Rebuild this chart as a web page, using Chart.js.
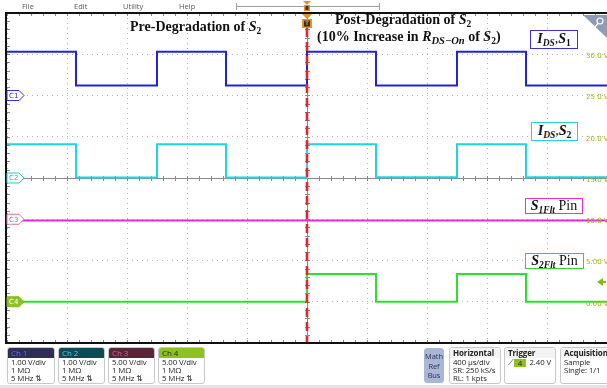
<!DOCTYPE html>
<html>
<head>
<meta charset="utf-8">
<script src="https://cdn.jsdelivr.net/npm/chart.js@4.4.1/dist/chart.umd.min.js"></script>
<style>
  body { margin: 0; background: #fff; }
  #wrap { position: relative; width: 607px; height: 388px; overflow: hidden; font-family: "Open Sans", "DejaVu Sans", sans-serif; }
  #scope { position: absolute; left: 0; top: 0; }
  .menu { position: absolute; top: 1px; font-size: 7.5px; color: #555; }
  .note { position: absolute; font-family: "Liberation Serif", "DejaVu Serif", serif; font-weight: bold; font-size: 14px; color: #111; white-space: nowrap; line-height: 14px; }
  .tag { position: absolute; box-sizing: border-box; border: 1.5px solid; background: #fff; font-family: "Liberation Serif", serif; font-size: 14px; color: #111; text-align: center; white-space: nowrap; }
  .tag b { font-style: italic; }
  sub { font-size: 9.5px; vertical-align: -3px; line-height: 0; }
  .box { position: absolute; box-sizing: border-box; top: 347px; height: 37px; border: 1px solid #c8c8c8; border-radius: 3px; background: #fff; font-size: 7.8px; color: #222; line-height: 8px; overflow: hidden; letter-spacing: -0.1px; }
  .box .hd { height: 10px; line-height: 10px; padding-left: 3px; font-size: 8px; }
  .box .ln { padding-left: 3px; }
  .wide .hd { font-weight: bold; background: #f4f4f4; }
</style>
</head>
<body>
<div id="wrap">
  <canvas id="scope" width="607" height="388"></canvas>

  <div class="menu" style="left:22px">File</div>
  <div class="menu" style="left:74px">Edit</div>
  <div class="menu" style="left:123px">Utility</div>
  <div class="menu" style="left:179px">Help</div>

  <div class="note" style="left:130px; top:20px">Pre-Degradation of <i>S</i><sub>2</sub></div>
  <div class="note" style="left:335px; top:13px">Post-Degradation of <i>S</i><sub>2</sub></div>
  <div class="note" style="left:317px; top:30px">(10% Increase in <i>R</i><sub style="font-size:10.5px"><i>DS&minus;On</i></sub> of <i>S</i><sub>2</sub>)</div>

  <div class="tag" style="left:530px; top:30px; width:48px; height:19px; line-height:16px; border-color:#3434d4"><b>I<sub>DS</sub></b>,<b>S</b><sub><b style="font-style:normal">1</b></sub></div>
  <div class="tag" style="left:531px; top:122px; width:47px; height:19px; line-height:16px; border-color:#22d4e2"><b>I<sub>DS</sub></b>,<b>S</b><sub><b style="font-style:normal">2</b></sub></div>
  <div class="tag" style="left:525px; top:198px; width:58px; height:16px; line-height:13px; border-color:#e034d4"><b>S<sub>1Flt</sub></b> Pin</div>
  <div class="tag" style="left:525px; top:253px; width:59px; height:16px; line-height:13px; border-color:#34d434"><b>S<sub>2Flt</sub></b> Pin</div>

  <div class="box" style="left:7px; width:48px"><div class="hd" style="background:#2e2e58; color:#6a6aff">Ch 1</div><div class="ln">1.00 V/div</div><div class="ln">1 M&Omega;</div><div class="ln">5 MHz &#8645;</div></div>
  <div class="box" style="left:58px; width:47px"><div class="hd" style="background:#0f4a56; color:#3ad6e6">Ch 2</div><div class="ln">1.00 V/div</div><div class="ln">1 M&Omega;</div><div class="ln">5 MHz &#8645;</div></div>
  <div class="box" style="left:108px; width:47px"><div class="hd" style="background:#5c2438; color:#e0609c">Ch 3</div><div class="ln">5.00 V/div</div><div class="ln">1 M&Omega;</div><div class="ln">5 MHz &#8645;</div></div>
  <div class="box" style="left:158px; width:47px"><div class="hd" style="background:#8dc21f; color:#1c2a08">Ch 4</div><div class="ln">5.00 V/div</div><div class="ln">1 M&Omega;</div><div class="ln">5 MHz &#8645;</div></div>

  <div class="box" style="left:424px; width:20px; top:348px; height:35px; background:#a9b6d6; border-color:#a9b6d6; text-align:center; line-height:9.5px; padding-top:3px; color:#2a3350; font-size:7.5px">Math<br>Ref<br>Bus</div>
  <div class="box wide" style="left:449px; width:52px"><div class="hd">Horizontal</div><div class="ln">400 &micro;s/div</div><div class="ln">SR: 250 kS/s</div><div class="ln">RL: 1 kpts</div></div>
  <div class="box wide" style="left:504px; width:52px"><div class="hd">Trigger <span style="display:inline-block; background:#8dc21f; width:12px; text-align:center; line-height:8px; margin-left:6px; font-weight:normal">4</span></div><div class="ln">&#10187;<span style="float:right; padding-right:4px">2.40 V</span></div></div>
  <div class="box wide" style="left:560px; width:52px"><div class="hd">Acquisition</div><div class="ln">Sample</div><div class="ln">Single: 1/1</div></div>
</div>

<script>
// edge times of the capture (µs, trigger at 0) and each channel's level from that edge on
const timeUs   = [-2000, -1540, -1000, -540, 0, 460, 1000, 1460, 2000];
const ch1Volts = [1.06, 0.24, 1.06, 0.24, 1.06, 0.24, 1.06, 0.24, 0.24];
const ch2Volts = [0.82, 0.01, 0.82, 0.01, 0.82, 0.02, 0.82, 0.02, 0.02];
const ch3Volts = [-0.15, -0.15, -0.15, -0.15, -0.15, -0.15, -0.15, -0.15, -0.15];
const ch4Volts = [0, 0, 0, 0, 3.35, 0, 3.35, 0, 0];

// scope vertical settings per channel
const voltsPerDiv = [1, 1, 5, 5];
const offsetDiv   = [2, 0, -1, -3];
const triggerVolts = 2.4;

// graticule labels on the right (ch4 scale)
const rightTickDivs   = [3, 2, 1, 0, -1, -2, -3];
const rightTickLabels = ['30.0 V', '25.0 V', '20.0 V', '15.0 V', '10.0 V', '5.00 V', '0.00 V'];

const chColors = ['#2222d6', '#1cd6e4', '#e628d8', '#2ee02e'];

function trace(volts, ch) {
    return timeUs.map((t, i) => ({ x: t, y: offsetDiv[ch] + volts[i] / voltsPerDiv[ch] }));
}

function marker(ctx, y, label, stroke, fill, textColor) {
    ctx.beginPath();
    ctx.moveTo(7, y - 5);
    ctx.lineTo(19, y - 5);
    ctx.lineTo(24, y);
    ctx.lineTo(19, y + 5);
    ctx.lineTo(7, y + 5);
    ctx.closePath();
    ctx.fillStyle = fill;
    ctx.fill();
    ctx.lineWidth = 1;
    ctx.strokeStyle = stroke;
    ctx.stroke();
    ctx.fillStyle = textColor;
    ctx.font = '7px "DejaVu Sans"';
    ctx.textAlign = 'left';
    ctx.textBaseline = 'middle';
    ctx.fillText(label, 9, y + 0.5);
}

const scopeDecor = {
    id: 'scopeDecor',
    beforeDraw(chart) {
        const ctx = chart.ctx;
        ctx.save();
        ctx.fillStyle = '#fff';
        ctx.fillRect(0, 0, chart.width, chart.height);
        // strip under the readout boxes
        ctx.fillStyle = '#e4e4e4';
        ctx.fillRect(0, 385, chart.width, 3);
        ctx.restore();
    },
    beforeDatasetsDraw(chart) {
        const { ctx, chartArea: a, scales: { x, y } } = chart;
        const x0 = x.getPixelForValue(0), y0 = y.getPixelForValue(0);
        ctx.save();
        ctx.strokeStyle = '#8a8a8a';
        ctx.lineWidth = 1;
        ctx.beginPath();
        ctx.moveTo(a.left, Math.round(y0) + 0.5);
        ctx.lineTo(a.right, Math.round(y0) + 0.5);
        ctx.moveTo(Math.round(x0) + 0.5, a.top);
        ctx.lineTo(Math.round(x0) + 0.5, a.bottom);
        for (let t = -2000; t <= 2000; t += 80) {
            const px = Math.round(x.getPixelForValue(t)) + 0.5;
            ctx.moveTo(px, y0 - 2);
            ctx.lineTo(px, y0 + 3);
            ctx.moveTo(px, a.top);
            ctx.lineTo(px, a.top + 3);
            ctx.moveTo(px, a.bottom);
            ctx.lineTo(px, a.bottom - 3);
        }
        for (let d = -4; d <= 4.001; d += 0.2) {
            const py = Math.round(y.getPixelForValue(d)) + 0.5;
            ctx.moveTo(x0 - 2, py);
            ctx.lineTo(x0 + 3, py);
            ctx.moveTo(a.left, py);
            ctx.lineTo(a.left + 3, py);
        }
        ctx.stroke();
        ctx.restore();
    },
    afterDatasetsDraw(chart) {
        const { ctx, chartArea: a, scales: { x, y } } = chart;
        const x0 = Math.round(x.getPixelForValue(0));
        ctx.save();

        // trigger position: red dashed line and T flag
        ctx.strokeStyle = '#e2262a';
        ctx.lineWidth = 2.6;
        ctx.setLineDash([9, 5]);
        ctx.beginPath();
        ctx.moveTo(x0, 28);
        ctx.lineTo(x0, a.bottom);
        ctx.stroke();
        ctx.setLineDash([]);

        ctx.fillStyle = '#e8902a';
        ctx.beginPath();
        ctx.moveTo(x0 - 5, 14);
        ctx.lineTo(x0 + 5, 14);
        ctx.lineTo(x0, 19);
        ctx.closePath();
        ctx.fill();
        ctx.fillRect(x0 - 5, 19, 10, 9);
        ctx.fillStyle = '#3a2a10';
        ctx.fillRect(x0 - 3, 20.5, 6, 6);
        ctx.fillStyle = '#e8902a';
        ctx.font = 'bold 6px "DejaVu Sans"';
        ctx.textAlign = 'center';
        ctx.textBaseline = 'middle';
        ctx.fillText('T', x0, 23.8);

        // frame
        ctx.strokeStyle = '#111';
        ctx.lineWidth = 2;
        ctx.beginPath();
        ctx.moveTo(a.right, 13);
        ctx.lineTo(6, 13);
        ctx.lineTo(6, a.bottom);
        ctx.lineTo(a.right, a.bottom);
        ctx.stroke();

        // channel ground markers
        marker(ctx, y.getPixelForValue(offsetDiv[0]), 'C1', '#3030e0', '#fff', '#3030e0');
        marker(ctx, y.getPixelForValue(offsetDiv[1]), 'C2', '#20c8d8', '#fff', '#20b8c8');
        marker(ctx, y.getPixelForValue(offsetDiv[2]), 'C3', '#e070a8', '#fff', '#d05090');
        marker(ctx, y.getPixelForValue(offsetDiv[3]), 'C4', '#86b818', '#8dc21f', '#fff');

        // right-hand scale labels
        ctx.fillStyle = '#98b81c';
        ctx.font = '7px "DejaVu Sans"';
        ctx.textAlign = 'left';
        ctx.textBaseline = 'middle';
        rightTickDivs.forEach((d, i) => {
            ctx.fillText(rightTickLabels[i], 586, y.getPixelForValue(d) + 2);
        });

        // trigger level arrow on ch4
        const ty = y.getPixelForValue(offsetDiv[3] + triggerVolts / voltsPerDiv[3]);
        ctx.fillStyle = '#86b818';
        ctx.beginPath();
        ctx.moveTo(597, ty);
        ctx.lineTo(603, ty - 4);
        ctx.lineTo(603, ty + 4);
        ctx.closePath();
        ctx.fill();
        ctx.fillRect(602, ty - 1, 4, 2);

        // zoom corner
        ctx.fillStyle = '#8d9cb4';
        ctx.beginPath();
        ctx.moveTo(583, 15);
        ctx.lineTo(607, 15);
        ctx.lineTo(607, 38);
        ctx.closePath();
        ctx.fill();
        ctx.strokeStyle = '#fff';
        ctx.lineWidth = 1.2;
        ctx.beginPath();
        ctx.arc(600, 21, 3, 0, Math.PI * 2);
        ctx.moveTo(598, 23.5);
        ctx.lineTo(594, 28);
        ctx.stroke();

        // menu bar record view
        ctx.strokeStyle = '#a0a0a0';
        ctx.lineWidth = 1;
        ctx.beginPath();
        ctx.moveTo(236, 6.5);
        ctx.lineTo(380, 6.5);
        ctx.moveTo(236.5, 3);
        ctx.lineTo(236.5, 10);
        ctx.moveTo(379.5, 3);
        ctx.lineTo(379.5, 10);
        ctx.stroke();
        ctx.fillStyle = '#e8902a';
        ctx.beginPath();
        ctx.moveTo(x0 - 4, 1);
        ctx.lineTo(x0 + 4, 1);
        ctx.lineTo(x0, 5);
        ctx.closePath();
        ctx.fill();
        ctx.fillRect(x0 - 3, 5, 6, 6);
        ctx.fillStyle = '#4a3010';
        ctx.fillRect(x0 - 1.5, 6, 3, 4);

        ctx.restore();
    }
};

const ds = (data, color) => ({
    data: data,
    borderColor: color,
    borderWidth: 2,
    stepped: true,
    pointRadius: 0,
    fill: false
});

const gridStyle = {
    ticks: { display: false },
    grid: { color: '#b4b4b4', lineWidth: 1, drawTicks: false },
    border: { display: false, dash: [1, 4] }
};

new Chart(document.getElementById('scope').getContext('2d'), {
    type: 'line',
    data: {
        datasets: [
            ds(trace(ch1Volts, 0), chColors[0]),
            ds(trace(ch2Volts, 1), chColors[1]),
            ds(trace(ch3Volts, 2), chColors[2]),
            ds(trace(ch4Volts, 3), chColors[3])
        ]
    },
    options: {
        responsive: false,
        animation: false,
        events: [],
        layout: { padding: { left: 7, right: 0, top: 13, bottom: 45 } },
        plugins: { legend: { display: false }, tooltip: { enabled: false } },
        scales: {
            x: Object.assign({ type: 'linear', min: -2000, max: 2000 }, gridStyle, { ticks: { display: false, stepSize: 400 } }),
            y: Object.assign({ type: 'linear', min: -4, max: 4 }, gridStyle, { ticks: { display: false, stepSize: 1 } })
        }
    },
    plugins: [scopeDecor]
});
</script>
</body>
</html>
